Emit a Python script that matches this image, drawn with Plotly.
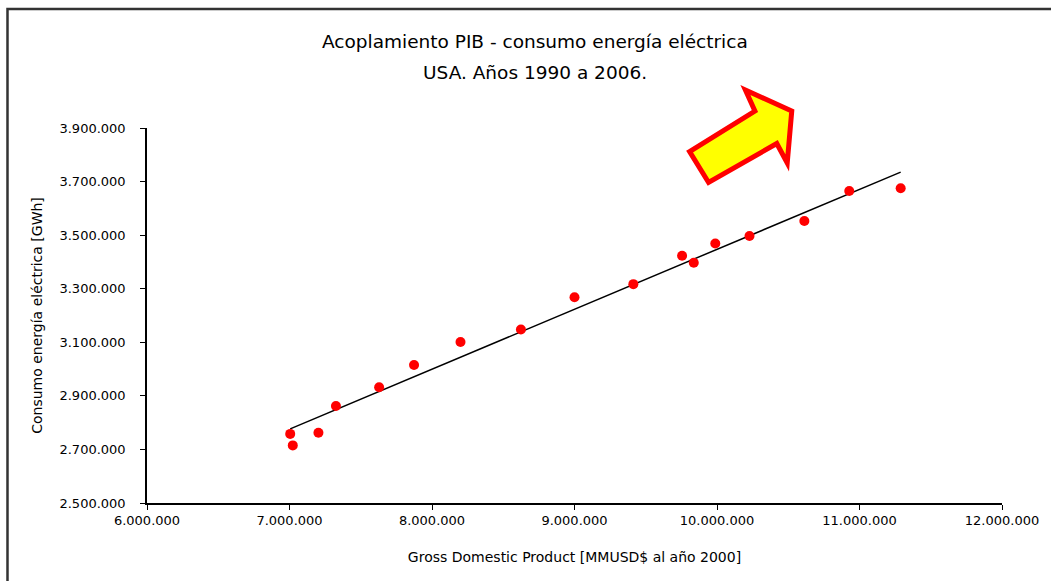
import numpy as np
import plotly.graph_objects as go

# Data (USA 1990-2006)
gdp = [7005000, 7023000, 7203000, 7326000, 7629000, 7874000, 8200000, 8624000,
       9000000, 9413000, 9755000, 9837000, 9988000, 10228000, 10613000, 10928000, 11289000]
consumo = [2758000, 2715000, 2762000, 2862000, 2932000, 3015000, 3101000, 3148000,
           3268000, 3317000, 3423000, 3397000, 3469000, 3497000, 3553000, 3665000, 3675000]

x_ticks = [6000000, 7000000, 8000000, 9000000, 10000000, 11000000, 12000000]
y_ticks = [2500000, 2700000, 2900000, 3100000, 3300000, 3500000, 3700000, 3900000]

title_lines = ["Acoplamiento PIB - consumo energía eléctrica", "USA. Años 1990 a 2006."]

W, H = 1051, 581
ML, MR, MT, MB = 147, 46, 128, 78
PW, PH = W - ML - MR, H - MT - MB


def px(xp):
    return (xp - ML) / PW


def py(yp):
    return (H - MB - yp) / PH


# linear trendline
slope, intercept = np.polyfit(gdp, consumo, 1)
tx = np.array([min(gdp), max(gdp)])
ty = slope * tx + intercept

fig = go.Figure()
fig.add_trace(go.Scatter(x=tx, y=ty, mode="lines",
                         line=dict(color="black", width=1.5), hoverinfo="skip"))
fig.add_trace(go.Scatter(x=gdp, y=consumo, mode="markers",
                         marker=dict(color="#ff0000", size=10)))

font = "DejaVu Sans, Arial, sans-serif"

# arrow polygon (decoration)
pts = [(691.5, 151.5), (757, 111), (747.5, 90), (794, 111), (789.5, 163), (779, 143.5), (710.5, 182.5)]
path = "M " + " L ".join(f"{px(a):.4f},{py(b):.4f}" for a, b in pts) + " Z"

annotations = [
    dict(text=t, xref="paper", yref="paper", x=0.5 * (px(147) + px(1005)) + (px(536) - px(576)),
         y=py(yc), xanchor="center", yanchor="middle", showarrow=False,
         font=dict(family=font, size=18.5, color="black"))
    for t, yc in zip(title_lines, [42, 72])
]

fig.update_layout(
    width=W, height=H,
    margin=dict(l=ML, r=MR, t=MT, b=MB),
    paper_bgcolor="white", plot_bgcolor="white",
    separators=",.",
    showlegend=False,
    annotations=annotations,
    xaxis=dict(range=[6000000, 12000000], tickvals=x_ticks, tickformat=",d",
               showgrid=False, zeroline=False, showline=True, linecolor="black", linewidth=1.5,
               ticks="outside", ticklen=5, tickcolor="black",
               tickfont=dict(family=font, size=13, color="black"),
               title=dict(text="Gross Domestic Product [MMUSD$ al año 2000]",
                          font=dict(family=font, size=14, color="black"), standoff=25)),
    yaxis=dict(range=[2500000, 3900000], tickvals=y_ticks, tickformat=",d",
               showgrid=False, zeroline=False, showline=True, linecolor="black", linewidth=1.5,
               ticks="outside", ticklen=5, tickcolor="black", ticklabelstandoff=12,
               tickfont=dict(family=font, size=13, color="black"),
               title=dict(text="Consumo energía eléctrica [GWh]",
                          font=dict(family=font, size=14, color="black"), standoff=14)),
    shapes=[
        dict(type="rect", xref="paper", yref="paper",
             x0=px(7), x1=px(1070), y0=py(600), y1=py(9),
             line=dict(color="#333333", width=2.5), fillcolor="rgba(0,0,0,0)", layer="below"),
        dict(type="path", xref="paper", yref="paper", path=path,
             fillcolor="#ffff00", line=dict(color="#ff0000", width=5)),
    ],
)

fig.write_html("out.html", config={"displayModeBar": False},
               post_script="document.body.style.margin='0';")
